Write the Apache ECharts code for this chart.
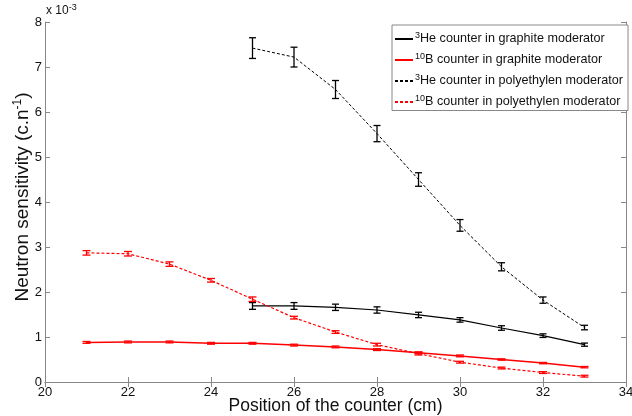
<!DOCTYPE html>
<html><head><meta charset="utf-8">
<script src="https://cdn.jsdelivr.net/npm/echarts@6/dist/echarts.min.js"></script>
<style>html,body{margin:0;padding:0;background:#fff}#c{width:632px;height:416px}</style>
</head><body><div id="c"></div>
<script>
// values in units of 1e-3 c.n^-1
const xHeGraph = [25,26,27,28,29,30,31,32,33];
const heGraph = [1.69,1.69,1.66,1.60,1.49,1.38,1.20,1.03,0.83];
const heGraphErr = [0.075,0.075,0.07,0.07,0.06,0.05,0.05,0.04,0.035];

const xBGraph = [21,22,23,24,25,26,27,28,29,30,31,32,33];
const bGraph = [0.88,0.89,0.89,0.86,0.86,0.82,0.78,0.72,0.65,0.58,0.50,0.42,0.33];
const bGraphErr = [0.02,0.02,0.02,0.02,0.02,0.02,0.02,0.02,0.02,0.02,0.015,0.015,0.015];

const xHePoly = [25,26,27,28,29,30,31,32,33];
const hePoly = [7.42,7.22,6.50,5.52,4.50,3.48,2.56,1.82,1.21];
const hePolyErr = [0.23,0.22,0.2,0.18,0.15,0.13,0.09,0.07,0.05];

const xBPoly = [21,22,23,24,25,26,27,28,29,30,31,32,33];
const bPoly = [2.87,2.85,2.62,2.26,1.84,1.43,1.11,0.83,0.63,0.44,0.31,0.21,0.13];
const bPolyErr = [0.05,0.05,0.05,0.04,0.05,0.03,0.03,0.03,0.03,0.02,0.02,0.02,0.02];

const xTicks = [20,22,24,26,28,30,32,34];
const yTicks = [0,1,2,3,4,5,6,7,8];

const names = ['He graphite','B graphite','He poly','B poly'];
const legendLabels = {
  'He graphite': '{sup|3}He counter in graphite moderator',
  'B graphite': '{sup|10}B counter in graphite moderator',
  'He poly': '{sup|3}He counter in polyethylen moderator',
  'B poly': '{sup|10}B counter in polyethylen moderator'
};

function pairs(xs, ys){ return xs.map((x,i)=>[x, ys[i]]); }
function triples(xs, ys, es){ return xs.map((x,i)=>[x, ys[i], es[i]]); }

function lineSeries(name, xs, ys, color, type, width){
  return {name, type:'line', data:pairs(xs,ys), symbol:'none', silent:true,
    lineStyle:{color, width, type}, itemStyle:{color}, z:3};
}
function errSeries(name, xs, ys, es, color, half){
  return {name, type:'custom', data:triples(xs,ys,es), silent:true, z:4,
    renderItem:function(params, api){
      const x = api.value(0), y = api.value(1), e = api.value(2);
      const lo = api.coord([x, y-e]), hi = api.coord([x, y+e]);
      const st = {stroke: color, lineWidth: 1.3};
      return {type:'group', children:[
        {type:'line', shape:{x1:lo[0], y1:lo[1], x2:hi[0], y2:hi[1]}, style:st},
        {type:'line', shape:{x1:lo[0]-half, y1:lo[1], x2:lo[0]+half, y2:lo[1]}, style:st},
        {type:'line', shape:{x1:hi[0]-half, y1:hi[1], x2:hi[0]+half, y2:hi[1]}, style:st}
      ]};
    }};
}

const axisColor = '#888';
const font = 'Liberation Sans, Arial, sans-serif';
const chart = echarts.init(document.getElementById('c'));
chart.setOption({
  animation:false,
  backgroundColor:'#fff',
  grid:{left:45, right:6, top:22, bottom:34, outerBoundsMode:'none', containLabel:false},
  xAxis:[{
    type:'value', min:xTicks[0], max:xTicks[xTicks.length-1], interval:2,
    name:'Position of the counter (cm)', nameLocation:'middle', nameGap:15, nameMoveOverlap:false,
    nameTextStyle:{fontFamily:font, fontSize:17.5, color:'#111'},
    axisLine:{lineStyle:{color:axisColor}},
    axisTick:{inside:true, length:5, lineStyle:{color:axisColor}},
    axisLabel:{fontFamily:font, fontSize:13, color:'#111', margin:4},
    splitLine:{show:false}
  },{
    type:'value', position:'top', min:xTicks[0], max:xTicks[xTicks.length-1], interval:2,
    axisLine:{lineStyle:{color:axisColor}},
    axisTick:{inside:true, length:5, lineStyle:{color:axisColor}},
    axisLabel:{show:false}, splitLine:{show:false}
  }],
  yAxis:[{
    type:'value', min:yTicks[0], max:yTicks[yTicks.length-1], interval:1,
    name:'Neutron sensitivity (c.n{sup|-1})', nameLocation:'middle', nameGap:12, nameMoveOverlap:false,
    nameTextStyle:{fontFamily:font, fontSize:19, color:'#111', padding:[0,0,0,10],
      rich:{sup:{fontFamily:font, fontSize:12, color:'#111', padding:[0,0,9,0]}}},
    axisLine:{lineStyle:{color:axisColor}},
    axisTick:{inside:true, length:5, lineStyle:{color:axisColor}},
    axisLabel:{fontFamily:font, fontSize:13, color:'#111', margin:3},
    splitLine:{show:false}
  },{
    type:'value', position:'right', min:yTicks[0], max:yTicks[yTicks.length-1], interval:1,
    axisLine:{lineStyle:{color:axisColor}},
    axisTick:{inside:true, length:5, lineStyle:{color:axisColor}},
    axisLabel:{show:false}, splitLine:{show:false}
  }],
  legend:{
    data:names, orient:'vertical', left:392, top:25,
    backgroundColor:'#fff', borderColor:'#888', borderWidth:1,
    padding:[6,5,2,2], itemGap:6.5, itemWidth:18, itemHeight:10,
    itemStyle:{opacity:0},
    formatter:function(n){ return legendLabels[n]; },
    textStyle:{fontFamily:font, fontSize:12.6, color:'#111', padding:[0,0,0,-3],
      rich:{sup:{fontFamily:font, fontSize:9, color:'#111', padding:[0,0,7,0]}}}
  },
  graphic:[{
    type:'text', left:46, top:3,
    style:{text:'x 10{sup|-3}', fontFamily:font, fontSize:12, fill:'#111',
      rich:{sup:{fontFamily:font, fontSize:9, fill:'#111', padding:[0,0,6,0]}}}
  }],
  series:[
    lineSeries(names[0], xHeGraph, heGraph, '#000', 'solid', 1.2),
    lineSeries(names[1], xBGraph, bGraph, '#ff0000', 'solid', 1.5),
    lineSeries(names[2], xHePoly, hePoly, '#000', [3,2], 1),
    lineSeries(names[3], xBPoly, bPoly, '#ff0000', [3,2], 1.2),
    errSeries('He graphite err', xHeGraph, heGraph, heGraphErr, '#000', 3.5),
    errSeries('B graphite err', xBGraph, bGraph, bGraphErr, '#ff0000', 4),
    errSeries('He poly err', xHePoly, hePoly, hePolyErr, '#000', 3.5),
    errSeries('B poly err', xBPoly, bPoly, bPolyErr, '#ff0000', 4)
  ]
});
</script></body></html>
